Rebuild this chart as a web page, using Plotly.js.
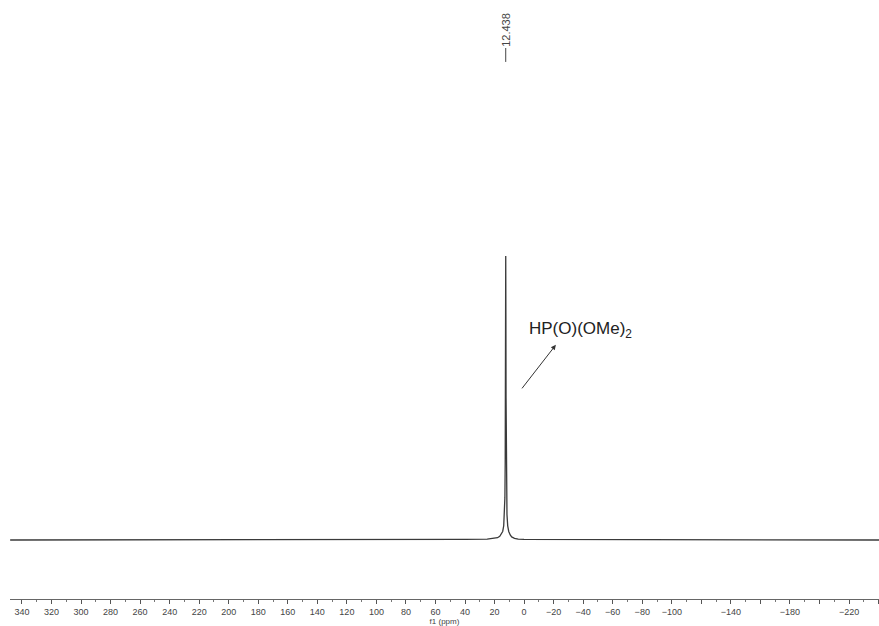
<!DOCTYPE html>
<html>
<head>
<meta charset="utf-8">
<script src="https://cdn.plot.ly/plotly-3.0.1.min.js"></script>
<style>html,body{margin:0;padding:0;background:#fff;}#chart{width:879px;height:626px;}</style>
</head>
<body>
<div id="chart"></div>
<script>
// Spectrum points (ppm, relative intensity)
const ppm = [348, 200, 100, 40, 25, 20, 18, 16.5, 15.5, 14.5, 13.8, 13.3, 13.0, 12.8, 12.65, 12.55, 12.438, 12.33, 12.22, 12.08, 11.9, 11.6, 11.1, 10.4, 9.4, 8.4, 6.5, 4, 0, -60, -150, -240.5];
const intensity = [0, 0, 0.001, 0.002, 0.003, 0.005, 0.008, 0.013, 0.02, 0.03, 0.05, 0.09, 0.15, 0.27, 0.50, 0.80, 1.0, 0.80, 0.50, 0.27, 0.15, 0.09, 0.05, 0.03, 0.018, 0.011, 0.006, 0.003, 0.002, 0.001, 0, 0];

const peakPpm = 12.438;
const peakLabel = "12.438";
const compoundLabel = "HP(O)(OMe)<sub>2</sub>";

const tickVals = [340, 320, 300, 280, 260, 240, 220, 200, 180, 160, 140, 120, 100, 80, 60, 40, 20, 0, -20, -40, -60, -80, -100, -120, -140, -160, -180, -200, -220, -240];
const tickText = ["340", "320", "300", "280", "260", "240", "220", "200", "180", "160", "140", "120", "100", "80", "60", "40", "20", "0", "\u221220", "\u221240", "\u221260", "\u221280", "\u2212100", "", "\u2212140", "", "\u2212180", "", "\u2212220", ""];

const trace = {
  x: ppm, y: intensity, type: 'scatter', mode: 'lines',
  line: {color: '#3a3a3a', width: 1.3}, hoverinfo: 'skip'
};

const layout = {
  width: 879, height: 626,
  margin: {l: 10, r: 0, t: 0, b: 27},
  paper_bgcolor: '#ffffff', plot_bgcolor: '#ffffff',
  showlegend: false,
  font: {family: 'Liberation Sans, Arial, sans-serif', color: '#333'},
  xaxis: {
    range: [348.1, -240.3], autorange: false,
    tickmode: 'array', tickvals: tickVals, ticktext: tickText,
    ticks: 'outside', ticklen: 4, tickwidth: 1, tickcolor: '#555',
    minor: {dtick: 10, tick0: 0, ticks: 'outside', ticklen: 2, tickcolor: '#777', showgrid: false},
    showline: true, linecolor: '#666', linewidth: 1,
    showgrid: false, zeroline: false,
    tickfont: {size: 9, color: '#444'},
    title: {text: 'f1 (ppm)', font: {size: 8, color: '#444'}, standoff: 0},
    automargin: false
  },
  yaxis: {
    range: [-0.2077, 1.901], autorange: false,
    visible: false, showgrid: false, zeroline: false
  },
  annotations: [
    {x: peakPpm, y: 1.795, xref: 'x', yref: 'y', text: peakLabel, textangle: -90,
     showarrow: false, font: {size: 11, color: '#444'}},
    {x: -38.5, y: 0.739, xref: 'x', yref: 'y', text: compoundLabel,
     showarrow: false, font: {size: 17, color: '#222'}},
    {x: -21.5, y: 0.687, xref: 'x', yref: 'y', text: '', showarrow: true,
     ax: -35, ay: 45, arrowhead: 2, arrowsize: 1, arrowwidth: 1, arrowcolor: '#333'}
  ],
  shapes: [
    {type: 'line', xref: 'x', yref: 'y', x0: peakPpm, x1: peakPpm, y0: 1.683, y1: 1.732,
     line: {color: '#444', width: 1}}
  ]
};

Plotly.newPlot('chart', [trace], layout, {staticPlot: true, displayModeBar: false});
</script>
</body>
</html>
